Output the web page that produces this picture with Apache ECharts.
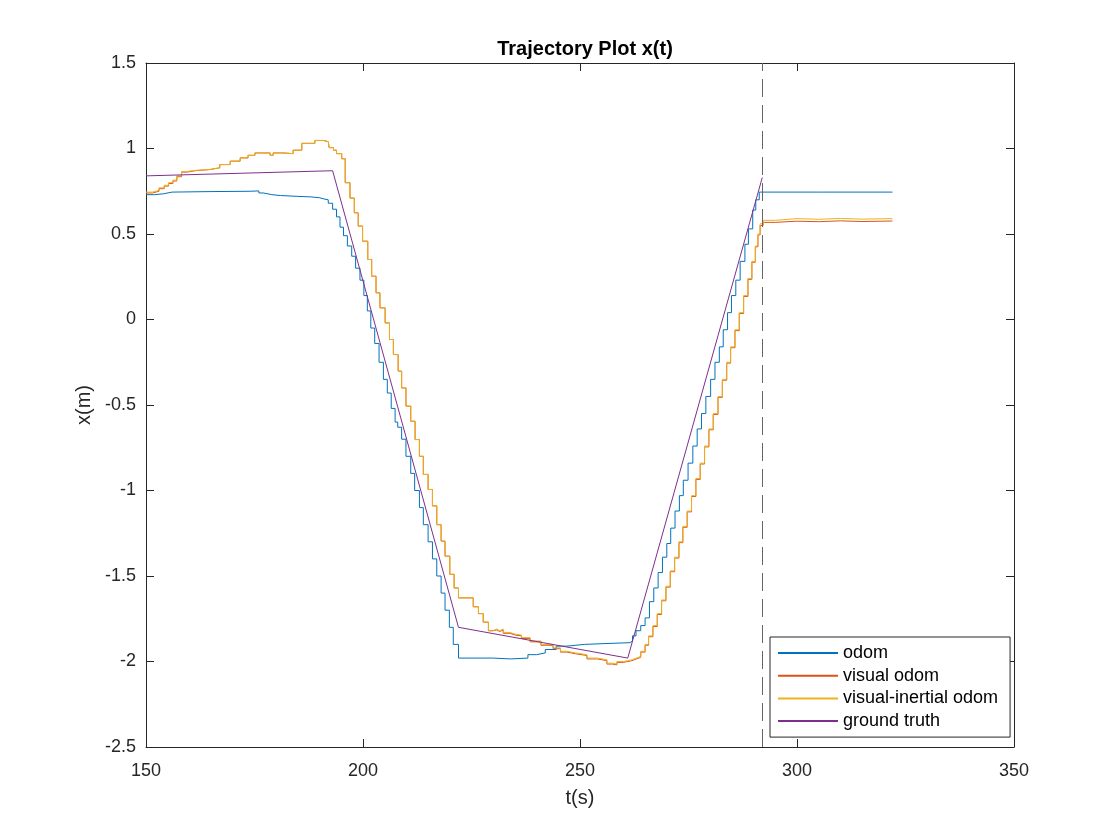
<!DOCTYPE html>
<html>
<head>
<meta charset="utf-8">
<title>Trajectory Plot x(t)</title>
<script src="https://cdn.jsdelivr.net/npm/echarts@6/dist/echarts.min.js"></script>
<style>
  html, body { margin: 0; padding: 0; background: #fff; }
  #chart { width: 1120px; height: 840px; }
</style>
</head>
<body>
<div id="chart"></div>
<script>
// ── data, [t (s), x (m)] ────────────────────────────────────────────
const odomData = [
    [150, 0.73], [152, 0.735], [154, 0.745], [156, 0.748], [165, 0.75], [174, 0.752],
    [176, 0.74], [177, 0.73], [179, 0.725], [181, 0.72], [185, 0.717], [188, 0.712],
    [190, 0.705], [191, 0.70],
    [192, 0.68], [193, 0.645], [193.9, 0.60], [194.7, 0.54], [195.5, 0.49], [196.4, 0.43],
    [197.4, 0.37], [198.3, 0.30], [199.3, 0.23], [200.2, 0.14], [201, 0.05], [201.8, -0.05],
    [202.7, -0.14], [203.7, -0.25], [204.7, -0.35], [205.6, -0.43], [206.5, -0.52],
    [207.4, -0.60], [208, -0.63], [208.9, -0.70], [209.9, -0.80], [211, -0.90],
    [211.9, -1.00], [213, -1.10], [213.9, -1.20], [215, -1.30], [216, -1.40], [217, -1.50],
    [218, -1.60], [218.9, -1.70], [219.9, -1.80], [220.8, -1.90], [222, -1.98],
    [230, -1.985], [234, -1.98], [238, -1.96], [240, -1.95], [242, -1.93], [244.5, -1.91],
    [247, -1.90], [251, -1.895], [256, -1.89], [261.5, -1.88],
    [262.1, -1.85], [262.9, -1.82], [264, -1.79], [265, -1.745], [266, -1.65], [267, -1.57],
    [268, -1.48], [269, -1.39], [270, -1.31], [270.9, -1.22], [271.9, -1.12], [272.9, -1.03],
    [273.8, -0.94], [274.9, -0.84], [276, -0.74], [277, -0.64], [278, -0.55], [279, -0.45],
    [280.1, -0.35], [281.1, -0.25], [282.1, -0.16], [283, -0.06], [284, 0.04], [284.9, 0.14],
    [285.9, 0.23], [286.9, 0.34], [288, 0.44], [288.8, 0.53], [289.8, 0.64], [290.5, 0.70],
    [291.3, 0.745], [305, 0.745], [322, 0.745]
];

const visualOdomData = [
    [150, 0.74], [151.5, 0.75], [153, 0.765], [154.2, 0.78], [155.2, 0.795], [156.2, 0.81],
    [157.1, 0.835], [158.2, 0.862], [159.5, 0.87], [161.3, 0.877], [164.7, 0.887], [167, 0.906],
    [169.4, 0.926], [171.7, 0.945], [173.5, 0.96], [175.1, 0.974], [178.6, 0.96], [179.3, 0.974],
    [181.6, 0.97], [183.9, 0.99], [185.9, 1.03], [188.9, 1.047], [190.9, 1.04], [192, 1.033],
    [192.2, 1.005], [193.2, 0.99], [193.9, 0.97], [195.1, 0.94], [195.9, 0.80], [197, 0.71],
    [198, 0.624], [198.9, 0.546], [199.9, 0.458], [201.1, 0.351], [202, 0.253], [203, 0.156],
    [203.9, 0.068], [205.1, -0.02], [206.1, -0.117], [207, -0.205], [208.1, -0.302],
    [208.9, -0.40], [209.9, -0.507], [211, -0.595], [212, -0.702], [213, -0.80], [213.9, -0.906],
    [215, -0.994], [216, -1.09], [217, -1.20], [218, -1.296], [218.9, -1.384], [220, -1.49],
    [221, -1.57], [222, -1.628], [225.4, -1.68], [226.6, -1.72], [227.7, -1.77], [228.9, -1.82],
    [230, -1.815], [230.8, -1.825], [231.5, -1.815], [232.3, -1.835], [233.9, -1.845],
    [235, -1.85], [236.5, -1.865], [238.5, -1.885], [241, -1.905], [243.8, -1.925],
    [245.5, -1.945], [247, -1.955], [249, -1.965], [251.6, -1.985], [254, -1.995],
    [256.2, -2.015], [257.5, -2.02], [258.5, -2.005], [260, -2.0], [261, -1.995], [262, -1.985],
    [263, -1.975], [264, -1.945], [265, -1.905], [265.8, -1.855], [266.8, -1.795],
    [267.8, -1.725], [268.8, -1.645], [269.8, -1.565], [270.8, -1.475], [271.8, -1.395],
    [272.8, -1.305], [273.7, -1.215], [274.7, -1.125], [275.7, -1.035], [276.7, -0.935],
    [277.7, -0.845], [278.7, -0.745], [279.7, -0.645], [280.7, -0.555], [281.8, -0.455],
    [282.8, -0.355], [283.8, -0.255], [284.7, -0.165], [285.7, -0.065], [286.7, 0.035],
    [287.7, 0.135], [288.7, 0.235], [289.6, 0.335], [290.4, 0.425], [291, 0.495],
    [291.5, 0.55], [292.2, 0.568], [295, 0.575], [300, 0.572], [305, 0.577], [310, 0.573],
    [315, 0.576], [322, 0.574]
];

const vioData = [
    [150, 0.745], [151.5, 0.755], [153, 0.77], [154.2, 0.785], [155.2, 0.80], [156.2, 0.815],
    [157.1, 0.84], [158.2, 0.866], [159.5, 0.872], [161.3, 0.877], [164.7, 0.887], [167, 0.906],
    [169.4, 0.926], [171.7, 0.945], [173.5, 0.96], [175.1, 0.974], [178.6, 0.96], [179.3, 0.974],
    [181.6, 0.97], [183.9, 0.99], [185.9, 1.03], [188.9, 1.047], [190.9, 1.04], [192, 1.033],
    [192.2, 1.005], [193.2, 0.99], [193.9, 0.97], [195.1, 0.94], [195.9, 0.80], [197, 0.71],
    [198, 0.624], [198.9, 0.546], [199.9, 0.458], [201.1, 0.351], [202, 0.253], [203, 0.156],
    [203.9, 0.068], [205.1, -0.02], [206.1, -0.117], [207, -0.205], [208.1, -0.302],
    [208.9, -0.40], [209.9, -0.507], [211, -0.595], [212, -0.702], [213, -0.80], [213.9, -0.906],
    [215, -0.994], [216, -1.09], [217, -1.20], [218, -1.296], [218.9, -1.384], [220, -1.49],
    [221, -1.57], [222, -1.628], [225.4, -1.68], [226.6, -1.72], [227.7, -1.77], [228.9, -1.82],
    [230, -1.81], [230.8, -1.82], [231.5, -1.81], [232.3, -1.83], [233.9, -1.84],
    [235, -1.845], [236.5, -1.86], [238.5, -1.88], [241, -1.90], [243.8, -1.92],
    [245.5, -1.94], [247, -1.95], [249, -1.96], [251.6, -1.98], [254, -1.99],
    [256.2, -2.01], [257.5, -2.015], [258.5, -2.0], [260, -1.995], [261, -1.99], [262, -1.98],
    [263, -1.97], [264, -1.94], [265, -1.90], [265.8, -1.85], [266.8, -1.79],
    [267.8, -1.72], [268.8, -1.64], [269.8, -1.56], [270.8, -1.47], [271.8, -1.39],
    [272.8, -1.30], [273.7, -1.21], [274.7, -1.12], [275.7, -1.03], [276.7, -0.93],
    [277.7, -0.84], [278.7, -0.74], [279.7, -0.64], [280.7, -0.55], [281.8, -0.45],
    [282.8, -0.35], [283.8, -0.25], [284.7, -0.16], [285.7, -0.06], [286.7, 0.04],
    [287.7, 0.14], [288.7, 0.24], [289.6, 0.34], [290.4, 0.43], [291, 0.50],
    [291.5, 0.56], [292.2, 0.58], [295, 0.59], [300, 0.586], [305, 0.591], [310, 0.587],
    [315, 0.59], [322, 0.588]
];

const groundTruthData = [[150, 0.84], [193, 0.87], [222, -1.80], [261, -1.98], [292, 0.83]];

const endTime = 292;                 // dashed marker
const xTicks = { min: 150, max: 350, interval: 50 };
const yTicks = { min: -2.5, max: 1.5, interval: 0.5 };

const AXIS_COLOR = '#262626';
const FONT = '"Liberation Sans", Arial, Helvetica, sans-serif';

const chart = echarts.init(document.getElementById('chart'), null, { renderer: 'canvas' });

function boxAxis(base, position, showLabel, labelMargin) {
    return Object.assign({
        type: 'value',
        position: position,
        axisLine: { show: true, onZero: false, lineStyle: { color: AXIS_COLOR, width: 1 } },
        axisTick: { show: true, inside: true, length: 8, lineStyle: { color: AXIS_COLOR } },
        axisLabel: { show: showLabel, margin: labelMargin || 8, color: AXIS_COLOR, fontSize: 18, fontFamily: FONT },
        splitLine: { show: false },
    }, base);
}

function lineSeries(name, data, color, step) {
    return {
        name: name,
        type: 'line',
        data: data,
        step: step ? 'end' : false,
        symbol: 'none',
        lineStyle: { color: color, width: 1 },
        itemStyle: { color: color },
        xAxisIndex: 0,
        yAxisIndex: 0,
    };
}

const gt = lineSeries('ground truth', groundTruthData, '#7E2F8E', false);
gt.markLine = {
    silent: true,
    symbol: 'none',
    label: { show: false },
    lineStyle: { color: '#666', width: 1, type: [18, 8] },
    data: [{ xAxis: endTime }],
};

chart.setOption({
    animation: false,
    backgroundColor: '#fff',
    title: {
        text: 'Trajectory Plot x(t)',
        left: 580,
        textAlign: 'center',
        top: 34,
        textStyle: { fontSize: 20, fontWeight: 'bold', color: '#000', fontFamily: FONT },
    },
    grid: { left: 146, right: 106, top: 63, bottom: 93, containLabel: false },
    xAxis: [
        boxAxis(Object.assign({
            name: 't(s)', nameLocation: 'middle', nameGap: 41,
            nameTextStyle: { fontSize: 20, color: AXIS_COLOR, fontFamily: FONT },
        }, xTicks), 'bottom', true, 15),
        boxAxis(Object.assign({}, xTicks), 'top', false),
    ],
    yAxis: [
        boxAxis(Object.assign({
            name: 'x(m)', nameLocation: 'middle', nameGap: 48,
            nameTextStyle: { fontSize: 20, color: AXIS_COLOR, fontFamily: FONT },
        }, yTicks), 'left', true, 10),
        boxAxis(Object.assign({}, yTicks), 'right', false),
    ],
    legend: {
        orient: 'vertical',
        left: 770,
        top: 637,
        padding: [7, 12, 7, 8],
        itemWidth: 60,
        itemHeight: 2,
        itemGap: 4.7,
        itemTextGap: 5,
        icon: 'path://M0,0H60V2H0Z',
        backgroundColor: '#fff',
        borderColor: AXIS_COLOR,
        borderWidth: 1,
        borderRadius: 0,
        textStyle: { fontSize: 18, color: '#000', fontFamily: FONT },
        data: ['odom', 'visual odom', 'visual-inertial odom', 'ground truth'],
    },
    series: [
        lineSeries('odom', odomData, '#0072BD', true),
        lineSeries('visual odom', visualOdomData, '#D95319', true),
        lineSeries('visual-inertial odom', vioData, '#EDB120', true),
        gt,
    ],
});
</script>
</body>
</html>
